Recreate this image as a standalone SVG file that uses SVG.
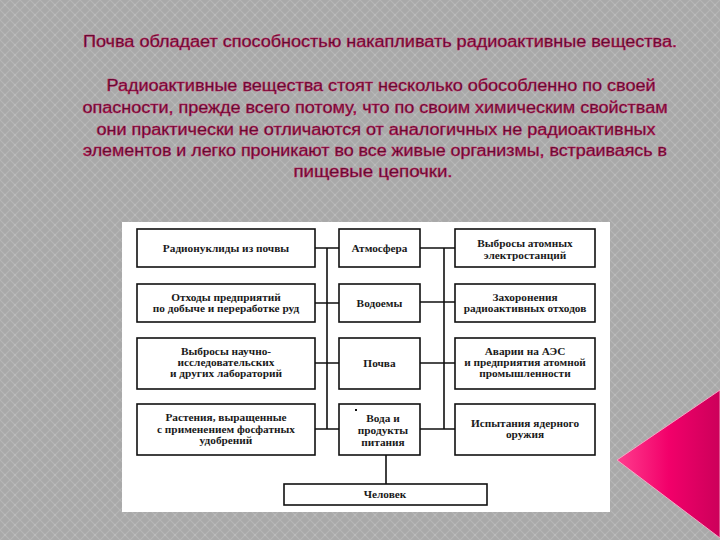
<svg xmlns="http://www.w3.org/2000/svg" width="720" height="540" viewBox="0 0 720 540">
<defs>
<pattern id="bgp" width="10" height="10" patternUnits="userSpaceOnUse">
<rect width="10" height="10" fill="#a9a9a9"/>
<path d="M0 0L10 10M10 0L0 10" stroke="#b6b6b6" stroke-width="1.2"/>
<circle cx="5" cy="5" r="1" fill="#bdbdbd"/>
</pattern>
<linearGradient id="pink" x1="0" y1="0" x2="1" y2="0">
<stop offset="0" stop-color="#ff3d8e"/>
<stop offset="0.5" stop-color="#f2006a"/>
<stop offset="1" stop-color="#cc005a"/>
</linearGradient>
<style>
.hd{font-family:"Liberation Sans",Arial,sans-serif;font-size:16px;fill:#3f0a25;stroke:#c2185b;stroke-width:0.5px;text-anchor:middle}
.bx{fill:#fff;stroke:#111;stroke-width:1.6}
.t{font-family:"Liberation Serif","Times New Roman",serif;font-size:11.3px;font-weight:bold;fill:#1a1a1a;text-anchor:middle}
.ln{stroke:#111;stroke-width:1.6;fill:none}
</style>
</defs>
<rect width="720" height="540" fill="url(#bgp)"/>
<polygon points="617,460 720,390 720,538" fill="url(#pink)" stroke="#f4a6c4" stroke-width="1"/>
<g id="heading">
<text class="hd" x="380" y="47" textLength="594" lengthAdjust="spacingAndGlyphs">Почва обладает способностью накапливать радиоактивные вещества.</text>
<text class="hd" x="381" y="91" textLength="549" lengthAdjust="spacingAndGlyphs">Радиоактивные вещества стоят несколько обособленно по своей</text>
<text class="hd" x="375" y="113" textLength="585" lengthAdjust="spacingAndGlyphs">опасности, прежде всего потому, что по своим химическим свойствам</text>
<text class="hd" x="376" y="135" textLength="559" lengthAdjust="spacingAndGlyphs">они практически не отличаются от аналогичных не радиоактивных</text>
<text class="hd" x="375" y="156" textLength="584" lengthAdjust="spacingAndGlyphs">элементов и легко проникают во все живые организмы, встраиваясь в</text>
<text class="hd" x="373" y="177" textLength="159" lengthAdjust="spacingAndGlyphs">пищевые цепочки.</text>
</g>
<rect id="panel" x="122" y="222" width="488" height="290" fill="#fff"/>
<g id="connectors">
<path class="ln" d="M327 248V429M315 248H339M315 303H339M315 363H339M315 429H339"/>
<path class="ln" d="M444 248V429M420 248H455M420 302H455M420 363H455M420 429H455"/>
<path class="ln" d="M386 455V484"/>
</g>
<g id="n1"><rect class="bx" x="137" y="229" width="178" height="38"/><text class="t" x="226" y="252">Радионуклиды из почвы</text></g>
<g id="n2"><rect class="bx" x="339" y="229" width="81" height="38"/><text class="t" x="379.5" y="252">Атмосфера</text></g>
<g id="n3"><rect class="bx" x="455" y="229" width="140" height="38"/><text class="t" x="525" y="247">Выбросы атомных</text><text class="t" x="525" y="259">электростанций</text></g>
<g id="n4"><rect class="bx" x="137" y="284" width="178" height="38"/><text class="t" x="226" y="301">Отходы предприятий</text><text class="t" x="226" y="312">по добыче и переработке руд</text></g>
<g id="n5"><rect class="bx" x="339" y="284" width="81" height="38"/><text class="t" x="379.5" y="307">Водоемы</text></g>
<g id="n6"><rect class="bx" x="455" y="284" width="140" height="38"/><text class="t" x="525" y="301">Захоронения</text><text class="t" x="525" y="312">радиоактивных отходов</text></g>
<g id="n7"><rect class="bx" x="137" y="338" width="178" height="51"/><text class="t" x="226" y="355">Выбросы научно-</text><text class="t" x="226" y="366">исследовательских</text><text class="t" x="226" y="377">и других лабораторий</text></g>
<g id="n8"><rect class="bx" x="339" y="338" width="81" height="51"/><text class="t" x="379.5" y="367">Почва</text></g>
<g id="n9"><rect class="bx" x="455" y="338" width="140" height="51"/><text class="t" x="525" y="355">Аварии на АЭС</text><text class="t" x="525" y="366">и предприятия атомной</text><text class="t" x="525" y="377">промышленности</text></g>
<g id="n10"><rect class="bx" x="137" y="404" width="178" height="51"/><text class="t" x="226" y="421">Растения, выращенные</text><text class="t" x="226" y="433">с применением фосфатных</text><text class="t" x="226" y="444">удобрений</text></g>
<g id="n11"><rect class="bx" x="339" y="404" width="81" height="51"/><rect x="355" y="409" width="2" height="2" fill="#111"/><text class="t" x="383" y="422">Вода и</text><text class="t" x="383" y="434">продукты</text><text class="t" x="383" y="446">питания</text></g>
<g id="n12"><rect class="bx" x="455" y="404" width="140" height="51"/><text class="t" x="525" y="427">Испытания ядерного</text><text class="t" x="525" y="438">оружия</text></g>
<g id="n13"><rect class="bx" x="284" y="484" width="203" height="21"/><text class="t" x="385" y="498">Человек</text></g>
</svg>
